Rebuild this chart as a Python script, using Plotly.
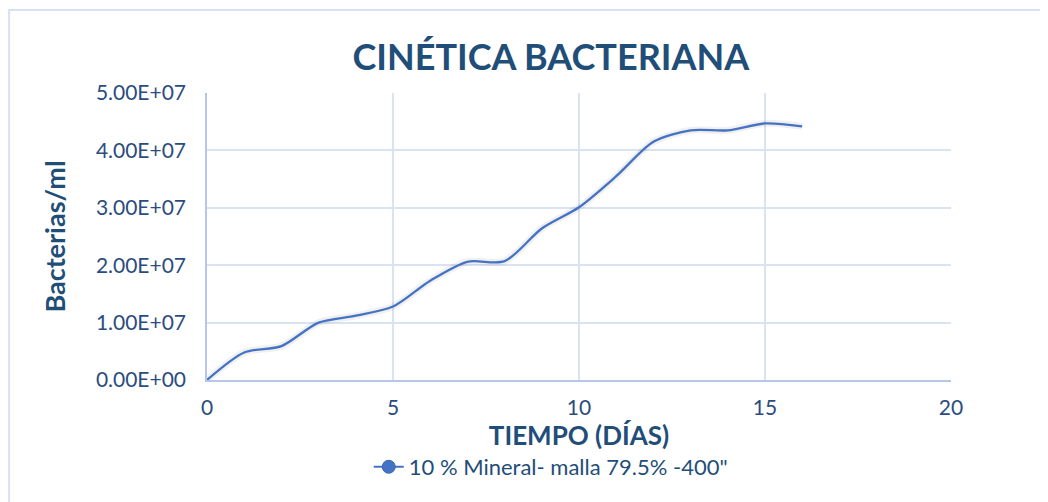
import plotly.graph_objects as go

dias = [0, 1, 2, 3, 4, 5, 6, 7, 8, 9, 10, 11, 12, 13, 14, 15, 16]
bacterias = [0, 4.8e6, 5.9e6, 1.0e7, 1.12e7, 1.28e7, 1.73e7, 2.06e7, 2.07e7, 2.64e7,
             3.01e7, 3.55e7, 4.15e7, 4.35e7, 4.35e7, 4.47e7, 4.42e7]
serie = '10 % Mineral- malla 79.5% -400"'
y_ticks = [0, 1e7, 2e7, 3e7, 4e7, 5e7]
y_ticktext = ["0.00E+00", "1.00E+07", "2.00E+07", "3.00E+07", "4.00E+07", "5.00E+07"]
x_ticks = [0, 5, 10, 15, 20]

FONT = "Lato, 'Open Sans', sans-serif"
DARK = "#1F4E79"
TICK = "#2B4C7E"
LINE = "#4472C4"
GRID = "#D9E3F2"

fig = go.Figure()
# soft shadow
fig.add_trace(go.Scatter(x=dias, y=bacterias, mode="lines",
                         line=dict(color="rgba(0,0,0,0.06)", width=7, shape="spline", smoothing=0.8),
                         showlegend=False, hoverinfo="skip"))
fig.add_trace(go.Scatter(x=dias, y=bacterias, mode="lines",
                         line=dict(color=LINE, width=2.3, shape="spline", smoothing=0.8),
                         showlegend=False, name=serie))
# legend entry (line with marker, as in original legend)
fig.add_trace(go.Scatter(x=[None], y=[None], mode="lines+markers", name=serie,
                         line=dict(color=LINE, width=2),
                         marker=dict(color=LINE, size=13, line=dict(color="#3A66B0", width=1))))

fig.update_layout(
    width=1040, height=494,
    paper_bgcolor="white", plot_bgcolor="white",
    margin=dict(l=199, r=97, t=85, b=122),
    title=dict(text="<b>CINÉTICA BACTERIANA</b>", x=0.522, xanchor="center",
               y=0.899, yanchor="middle",
               font=dict(family=FONT, size=36, color=DARK)),
    font=dict(family=FONT, color=DARK),
    showlegend=True,
    legend=dict(orientation="h", x=0.462, xanchor="center", y=-0.303, yanchor="middle",
                font=dict(family=FONT, size=22, color=DARK),
                bgcolor="rgba(0,0,0,0)"),
    shapes=[dict(type="rect", xref="paper", yref="paper",
                 x0=-0.266, x1=1.3, y0=-0.6, y1=1.289,
                 line=dict(color="#D6E2F3", width=2), layer="below")],
)
fig.update_xaxes(range=[0, 20], tickvals=x_ticks, showgrid=True, gridcolor=GRID, gridwidth=1.5,
                 zeroline=False, showline=True, linecolor="#B4C7E7", linewidth=1.5,
                 ticks="", ticklabelstandoff=8, tickfont=dict(family=FONT, size=21, color=TICK),
                 title=dict(text="<b>TIEMPO (DÍAS)</b>", font=dict(family=FONT, size=26, color=DARK),
                            standoff=2))
fig.update_yaxes(range=[0, 5e7], tickvals=y_ticks, ticktext=y_ticktext, showgrid=True,
                 gridcolor=GRID, gridwidth=1.5, zeroline=False, showline=True,
                 linecolor="#B4C7E7", linewidth=1.5, ticks="", ticklabelstandoff=15,
                 tickfont=dict(family=FONT, size=21, color=TICK),
                 title=dict(text="<b>Bacterias/ml</b>", font=dict(family=FONT, size=27, color=DARK),
                            standoff=22))

fig.write_html("out.html")
